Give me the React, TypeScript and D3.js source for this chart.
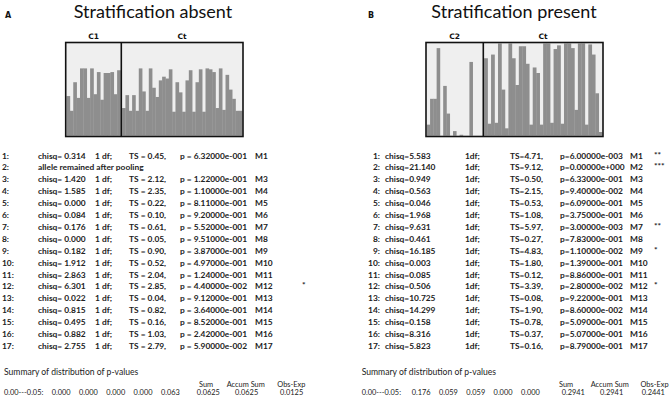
import React from "react";
import * as d3 from "d3";

// ---------- Histogram data (fraction of panel height) ----------
const panelA_C1 = [0.43, 0.27, 0.58, 0.41, 0.73, 0.73, 0.41, 0.73, 0.45, 0.69, 0.39, 0.68, 0.68, 0.69, 0.45, 0.71];
const panelA_Ct = [0.3, 0.44, 0.27, 0.44, 0.27, 0.73, 0.48, 0.27, 0.73, 0.52, 0.42, 0.6, 0.64, 0.62, 0.72, 0.26, 0.58, 0.47, 0.26, 0.6, 0.71, 0.26, 0.58, 0.72, 0.26, 0.73, 0.72, 0.69, 0.3, 0.73, 0.28, 0.66, 0.5, 0.4, 0.27, 0.27];
const panelB_C2 = [0.12, 0.4, 0.4, 0.95, 0, 0.54, 0.24, 0, 0.05, 0, 0.01, 0, 0, 0.8, 0, 0, 0];
const panelB_Ct = [0.84, 0.13, 0.88, 0.14, 1.0, 0.5, 0.08, 1.0, 0.84, 0.55, 0.97, 0.97, 0.78, 0.12, 0.74, 0.68, 0.12, 1.0, 1.0, 0.14, 0.94, 0.98, 0.13, 1.0, 1.0, 0.95, 0.28, 1.0, 1.0, 0.12, 0.99, 0.88, 0.46, 0.04];

// ---------- Test table, panel A ----------
const leftChisq = ["0.314", "", "1.420", "1.585", "0.000", "0.084", "0.176", "0.000", "0.182", "1.912", "2.863", "6.301", "0.022", "0.815", "0.495", "0.882", "2.755"];
const leftTS = ["0.45", "", "2.12", "2.35", "0.22", "0.10", "0.61", "0.05", "0.90", "0.52", "2.04", "2.85", "0.04", "0.82", "0.16", "1.03", "2.79"];
const leftP = ["6.32000e-001", "", "1.22000e-001", "1.10000e-001", "8.11000e-001", "9.20000e-001", "5.52000e-001", "9.51000e-001", "3.87000e-001", "4.97000e-001", "1.24000e-001", "4.40000e-002", "9.12000e-001", "3.64000e-001", "8.52000e-001", "2.42000e-001", "5.90000e-002"];
const leftStars = ["", "", "", "", "", "", "", "", "", "", "", "*", "", "", "", "", ""];
const leftSummary = ["0.000", "0.000", "0.000", "0.000", "0.063"];
const leftTotals = ["0.0625", "0.0625", "0.0125"];

// ---------- Test table, panel B ----------
const rightChisq = ["5.583", "21.140", "0.949", "0.563", "0.046", "1.968", "9.631", "0.461", "16.185", "0.003", "0.085", "0.506", "10.725", "14.299", "0.158", "8.316", "5.823"];
const rightTS = ["4.71", "9.12", "0.50", "2.15", "0.53", "1.08", "5.97", "0.27", "4.83", "1.80", "0.12", "3.39", "0.08", "1.90", "0.78", "0.37", "0.16"];
const rightP = ["6.00000e-003", "0.00000e+000", "6.33000e-001", "9.40000e-002", "6.09000e-001", "3.75000e-001", "3.00000e-003", "7.83000e-001", "1.10000e-002", "1.39000e-001", "8.86000e-001", "2.80000e-002", "9.22000e-001", "8.60000e-002", "5.09000e-001", "5.07000e-001", "8.79000e-001"];
const rightStars = ["**", "***", "", "", "", "", "**", "", "*", "", "", "*", "", "", "", "", ""];
const rightSummary = ["0.176", "0.059", "0.059", "0.000", "0.000"];
const rightTotals = ["0.2941", "0.2941", "0.2441"];

const totalsHeader = ["Sum", "Accum Sum", "Obs-Exp"];

const W = 669;
const H = 400;
const BAR = "#8e8e8e";
const BG = "#efefef";
const FONT = "Lato, 'Open Sans', sans-serif";

function Bars({ data, x0, x1, y0, y1 }: { data: number[]; x0: number; x1: number; y0: number; y1: number }) {
  const xs = d3.scaleBand<number>().domain(d3.range(data.length)).range([x0, x1]).padding(0);
  const ys = d3.scaleLinear().domain([0, 1]).range([y1, y0]);
  return (
    <g>
      {data.map((v, i) => (
        <rect key={i} x={xs(i)!} y={ys(v)} width={xs.bandwidth() + 0.3} height={y1 - ys(v)} fill={BAR} />
      ))}
    </g>
  );
}

function HistPanel({ left, right, split, first, second, lab1, lab2 }: any) {
  const top = 42.5;
  const bottom = 136.5;
  return (
    <g>
      <rect x={left} y={top} width={right - left} height={bottom - top} fill={BG} />
      <Bars data={first} x0={left + 0.8} x1={split - 0.8} y0={top + 1} y1={bottom - 0.8} />
      <Bars data={second} x0={split + 0.8} x1={right - 0.8} y0={top + 1} y1={bottom - 0.8} />
      <rect x={left} y={top} width={right - left} height={bottom - top} fill="none" stroke="#111" strokeWidth={1.6} />
      <line x1={split} x2={split} y1={top} y2={bottom} stroke="#111" strokeWidth={1.6} />
      <text x={(left + split) / 2} y={38.5} textAnchor="middle" fontFamily="'DejaVu Sans', sans-serif" fontWeight={900} fontSize={7.5} fill="#111">{lab1}</text>
      <text x={(split + right) / 2} y={38.5} textAnchor="middle" fontFamily="'DejaVu Sans', sans-serif" fontWeight={900} fontSize={7.5} fill="#111">{lab2}</text>
    </g>
  );
}

const rowY = d3.scaleLinear().domain([1, 17]).range([158.5, 349]);

export default function App() {
  const idx = d3.range(1, 18);
  return (
    <svg width={W} height={H} style={{ position: "absolute", left: 0, top: 0, background: "#fff" }}>
      {/* Titles */}
      <text x={5} y={18} fontFamily="'DejaVu Sans', sans-serif" fontWeight={700} fontSize={8} fill="#111">A</text>
      <text x={153} y={18} textAnchor="middle" fontFamily={FONT} fontSize={18} fill="#111">Stratification absent</text>
      <text x={368} y={18} fontFamily="'DejaVu Sans', sans-serif" fontWeight={700} fontSize={8} fill="#111">B</text>
      <text x={514} y={17.5} textAnchor="middle" fontFamily={FONT} fontSize={18} fill="#111">Stratification present</text>

      <HistPanel left={65.7} right={243} split={121.3} first={panelA_C1} second={panelA_Ct} lab1="C1" lab2="Ct" />
      <HistPanel left={426} right={603} split={483.3} first={panelB_C2} second={panelB_Ct} lab1="C2" lab2="Ct" />

      {/* Left table */}
      <g fontFamily={FONT} fontWeight={700} fontSize={8.4} fill="#222">
        {idx.map((n, i) => (
          <g key={n}>
            <text x={2} y={rowY(n)}>{n}:</text>
            {i === 1 ? (
              <text x={38} y={rowY(n)}>allele remained after pooling</text>
            ) : (
              <>
                <text x={38} y={rowY(n)}>chisq= {leftChisq[i]}</text>
                <text x={95} y={rowY(n)}>1 df;</text>
                <text x={129} y={rowY(n)}>TS = {leftTS[i]},</text>
                <text x={180} y={rowY(n)}>p = {leftP[i]}</text>
                <text x={255} y={rowY(n)}>M{n}</text>
              </>
            )}
            {leftStars[i] && <text x={302} y={rowY(n) - 1}>{leftStars[i]}</text>}
          </g>
        ))}
      </g>

      {/* Right table */}
      <g fontFamily={FONT} fontWeight={700} fontSize={8.4} fill="#222">
        {idx.map((n, i) => (
          <g key={n}>
            <text x={380} y={rowY(n)} textAnchor="end">{n}:</text>
            <text x={385} y={rowY(n)}>chisq={rightChisq[i]}</text>
            <text x={465} y={rowY(n)}>1df;</text>
            <text x={510} y={rowY(n)}>TS={rightTS[i]},</text>
            <text x={560} y={rowY(n)}>p={rightP[i]}</text>
            <text x={630} y={rowY(n)}>M{n}</text>
            {rightStars[i] && <text x={654} y={rowY(n) - 1}>{rightStars[i]}</text>}
          </g>
        ))}
      </g>

      {/* Summaries */}
      <g fontFamily={FONT} fill="#222">
        <text x={4} y={375} fontSize={8.6}>Summary of distribution of p-values</text>
        <g fontSize={7.4}>
          <text x={199} y={386.5}>{totalsHeader[0]}</text>
          <text x={226.7} y={386.5}>{totalsHeader[1]}</text>
          <text x={277.3} y={386.5}>{totalsHeader[2]}</text>
          <text x={4} y={395}>0.00---0.05:</text>
          {leftSummary.map((v, i) => (
            <text key={i} x={51.7 + i * 27.3} y={395}>{v}</text>
          ))}
          <text x={196.7} y={395}>{leftTotals[0]}</text>
          <text x={235} y={395}>{leftTotals[1]}</text>
          <text x={280} y={395}>{leftTotals[2]}</text>
        </g>

        <text x={361.7} y={375} fontSize={8.6}>Summary of distribution of p-values</text>
        <g fontSize={7.4}>
          <text x={559} y={386.5}>{totalsHeader[0]}</text>
          <text x={590.7} y={386.5}>{totalsHeader[1]}</text>
          <text x={640.5} y={386.5}>{totalsHeader[2]}</text>
          <text x={361.7} y={395}>0.00---0.05:</text>
          {rightSummary.map((v, i) => (
            <text key={i} x={411.7 + i * 27.3} y={395}>{v}</text>
          ))}
          <text x={561.7} y={395}>{rightTotals[0]}</text>
          <text x={600} y={395}>{rightTotals[1]}</text>
          <text x={641.7} y={395}>{rightTotals[2]}</text>
        </g>
      </g>
    </svg>
  );
}
